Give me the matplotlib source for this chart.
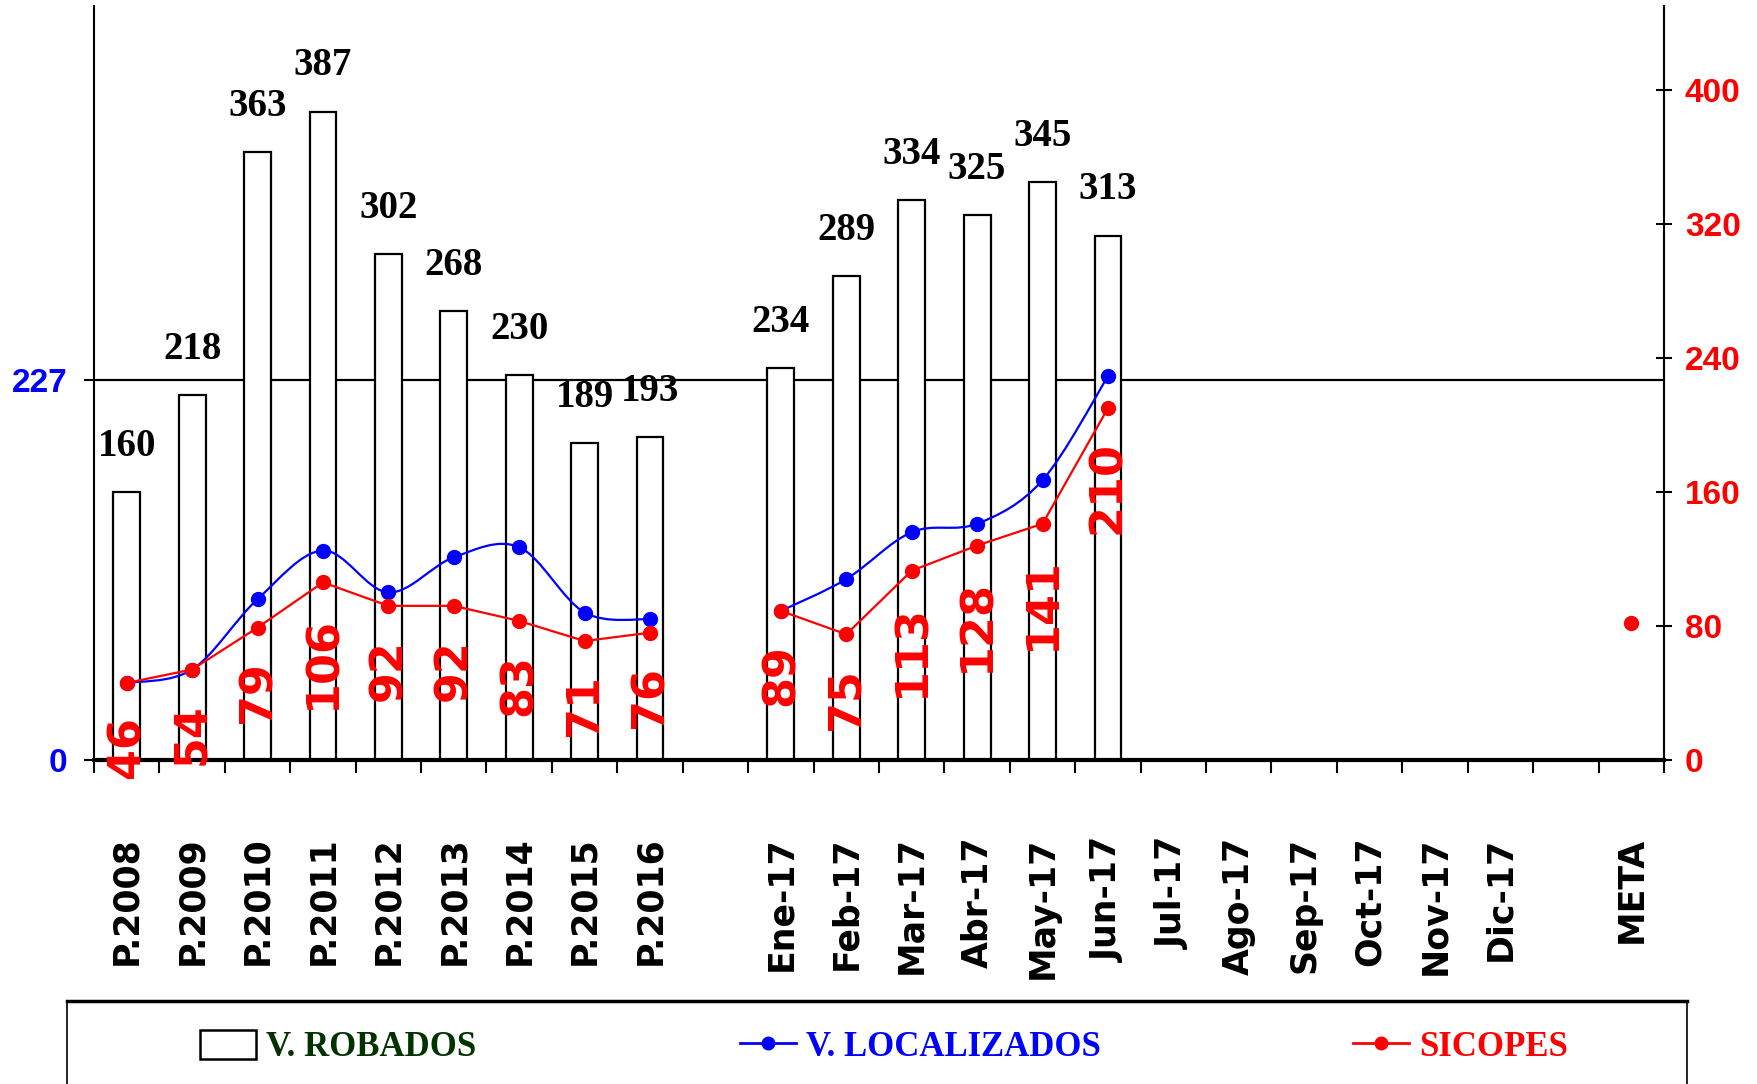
import numpy as np
import matplotlib
matplotlib.use('Agg')
import matplotlib.pyplot as plt
from matplotlib.path import Path
from matplotlib.patches import PathPatch, Rectangle, Patch
from matplotlib.lines import Line2D

# --- data ---
categories = ['P.2008', 'P.2009', 'P.2010', 'P.2011', 'P.2012', 'P.2013',
              'P.2014', 'P.2015', 'P.2016', '',
              'Ene-17', 'Feb-17', 'Mar-17', 'Abr-17', 'May-17', 'Jun-17',
              'Jul-17', 'Ago-17', 'Sep-17', 'Oct-17', 'Nov-17', 'Dic-17',
              '', 'META']
nan = np.nan
robados = [160, 218, 363, 387, 302, 268, 230, 189, 193, nan,
           234, 289, 334, 325, 345, 313, nan, nan, nan, nan, nan, nan,
           nan, nan]
localizados = [46, 54, 96, 125, 100, 121, 127, 88, 84, nan,
               89, 108, 136, 141, 167, 229, nan, nan, nan, nan, nan, nan,
               nan, nan]
sicopes = [46, 54, 79, 106, 92, 92, 83, 71, 76, nan,
           89, 75, 113, 128, 141, 210, nan, nan, nan, nan, nan, nan,
           nan, 82]
promedio = 227
right_ticks = [0, 80, 160, 240, 320, 400]

W, H = 1758, 1084
SERIF = 'Liberation Serif'
SANS = 'Liberation Sans'


def smooth_path(xs, ys):
    """Bezier path through the points (Excel-like smoothed line)."""
    pts = list(zip(xs, ys))
    verts = [pts[0]]
    codes = [Path.MOVETO]
    n = len(pts)
    for i in range(n - 1):
        p0 = pts[i - 1] if i > 0 else pts[i]
        p1, p2 = pts[i], pts[i + 1]
        p3 = pts[i + 2] if i + 2 < n else pts[i + 1]
        c1 = (p1[0] + (p2[0] - p0[0]) / 6, p1[1] + (p2[1] - p0[1]) / 6)
        c2 = (p2[0] - (p3[0] - p1[0]) / 6, p2[1] - (p3[1] - p1[1]) / 6)
        verts += [c1, c2, p2]
        codes += [Path.CURVE4] * 3
    return Path(verts, codes)


x = np.arange(len(categories))
rob = np.array(robados, dtype=float)
loc = np.array(localizados, dtype=float)
sic = np.array(sicopes, dtype=float)

fig = plt.figure(figsize=(W / 100, H / 100), dpi=100)
ax = fig.add_axes([94 / W, 1 - 760 / H, 1570 / W, 754 / H])
ax2 = ax.twinx()

# bars
ok = ~np.isnan(rob)
ax.bar(x[ok], rob[ok], width=0.41, color='white', edgecolor='black',
       linewidth=1.6, zorder=2)
for xi, v in zip(x[ok], rob[ok]):
    ax.annotate(f'{v:.0f}', (xi, v), xytext=(0, 26), textcoords='offset points',
                ha='center', va='baseline', fontsize=28, fontweight='bold',
                family=SERIF, color='black')

ax.axhline(promedio, color='black', lw=1.6, zorder=1)

# blue smoothed line (two runs separated by gaps)
okl = ~np.isnan(loc)
runs = []
cur = []
for xi in x:
    if okl[xi]:
        cur.append(xi)
    elif cur:
        runs.append(cur)
        cur = []
if cur:
    runs.append(cur)
for r in runs:
    ax2.add_patch(PathPatch(smooth_path(x[r], loc[r]), fill=False,
                            edgecolor='#0000FF', lw=1.6, zorder=3))
ax2.plot(x[okl], loc[okl], ls='none', marker='o', ms=10, color='#0000FF', zorder=4)

# red line
ax2.plot(x, sic, color='#FF0000', lw=1.6, marker='o', ms=10, zorder=5)
for xi, v in zip(x, sic):
    if np.isnan(v) or categories[xi] == 'META':
        continue
    ax2.annotate(f'{v:.0f}', (xi, v), xytext=(0, -24), textcoords='offset points',
                 rotation=90, ha='center', va='top', fontsize=32,
                 fontweight='bold', family='DejaVu Sans', color='#FF0000',
                 zorder=6)

# axes
for a in (ax, ax2):
    a.set_ylim(0, 450)
    a.set_xlim(-0.5, len(categories) - 0.5)
ax.set_yticks([0, promedio])
ax.set_yticklabels(['0', str(promedio)])
ax2.set_yticks(right_ticks)
ax2.set_yticklabels([str(t) for t in right_ticks])
for lab in ax.get_yticklabels():
    lab.set_color('#0000FF')
    lab.set_fontfamily(SANS)
    lab.set_fontweight('bold')
    lab.set_fontsize(24)
for lab in ax2.get_yticklabels():
    lab.set_color('#FF0000')
    lab.set_fontfamily(SANS)
    lab.set_fontweight('bold')
    lab.set_fontsize(24)

ax.set_xticks(np.arange(-0.5, len(categories)), minor=False)
ax.set_xticklabels([])
ax.set_xticks(x, minor=True)
ax.set_xticklabels(categories, minor=True, rotation=90, fontsize=25,
                   fontweight='bold', family='DejaVu Sans')
ax.tick_params(axis='x', which='major', direction='out', length=9, width=1.5)
ax.tick_params(axis='x', which='minor', length=0, pad=55)
ax.tick_params(axis='y', direction='out', length=7, width=1.5, pad=12)
ax2.tick_params(axis='y', direction='inout', length=12, width=1.5, pad=9)

ax.spines['top'].set_visible(False)
ax.spines['right'].set_visible(False)
ax.spines['left'].set_linewidth(1.5)
ax.spines['bottom'].set_linewidth(3)
for s in ('top', 'left', 'bottom'):
    ax2.spines[s].set_visible(False)
ax2.spines['right'].set_linewidth(1.5)

# legend box at the bottom
box_top = 1 - 1001 / H
fig.add_artist(Rectangle((67 / W, -0.05), 1620 / W, box_top + 0.05,
                         transform=fig.transFigure, fill=False,
                         edgecolor='black', lw=1.2, clip_on=False))
fig.add_artist(Line2D([67 / W, 1687 / W], [box_top, box_top],
                      transform=fig.transFigure, color='black', lw=2.5))

leg_y = 1 - 1047 / H
entries = [
    (Patch(facecolor='white', edgecolor='black', lw=1.8), 'V. ROBADOS', '#003300', 200),
    (Line2D([], [], color='#0000FF', lw=2, marker='o', ms=9), 'V. LOCALIZADOS', '#0000FF', 740),
    (Line2D([], [], color='#FF0000', lw=2, marker='o', ms=9), 'SICOPES', '#FF0000', 1353),
]
for handle, label, col, px in entries:
    leg = fig.legend(handles=[handle], labels=[label], loc='center left',
                     bbox_to_anchor=(px / W, leg_y), frameon=False,
                     borderpad=0, borderaxespad=0, handlelength=1.6,
                     handleheight=0.9, handletextpad=0.3,
                     prop=dict(family=SERIF, weight='bold', size=25))
    leg.get_texts()[0].set_color(col)

fig.savefig('out.png', dpi=100)
